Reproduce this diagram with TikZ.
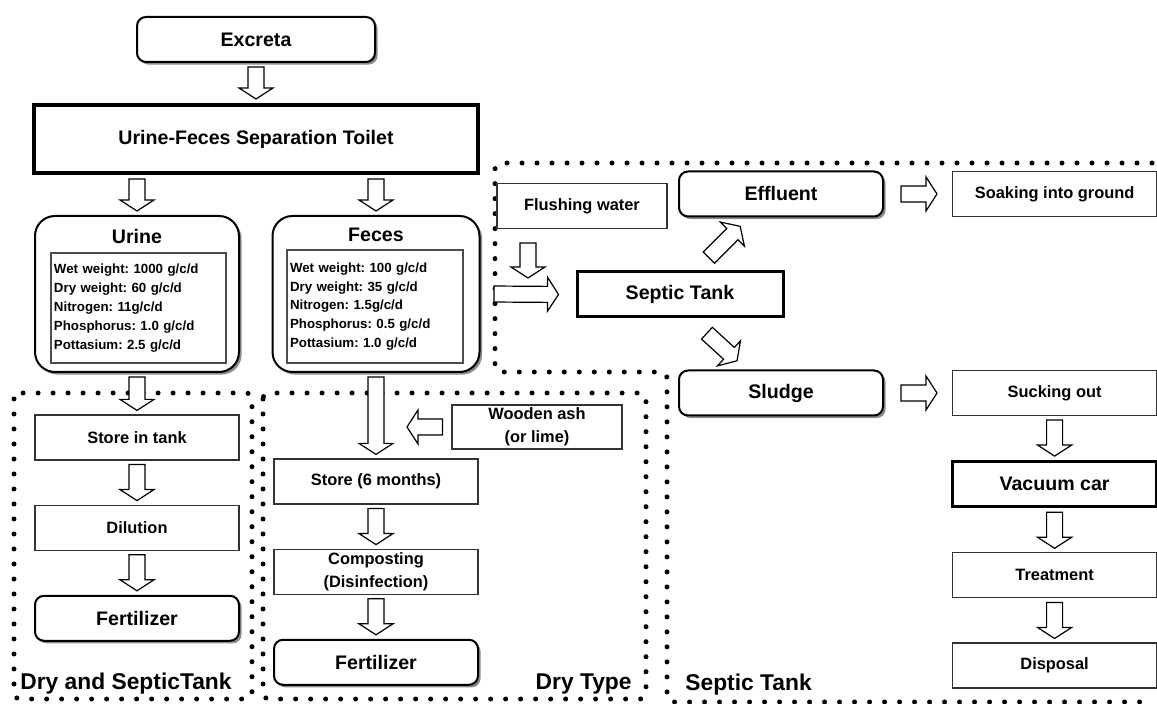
\documentclass[tikz,border=0pt]{standalone}
\usepackage{fontspec}
\setmainfont{Liberation Sans}
\usepackage{xcolor}
\colorlet{colorShadow}{black!45}
\colorlet{colorFrame}{black!80}
\colorlet{colorData}{black!70}
\usetikzlibrary{positioning, calc, shadows}
\frenchspacing
\tikzset{
  roundbox/.style={draw, line width=1pt, rounded corners=4.5pt, fill=white,
    drop shadow={shadow xshift=1.3pt, shadow yshift=-1.3pt, fill=colorShadow, opacity=1},
    minimum width=102pt, minimum height=22.5pt, inner sep=0pt,
    font=\fontsize{9.8}{11}\selectfont\bfseries},
  groupbox/.style={roundbox, rounded corners=10pt, minimum width=102pt, minimum height=78pt},
  plainbox/.style={draw=colorFrame, line width=0.6pt, fill=white, minimum width=102pt,
    minimum height=22.5pt, inner sep=0pt, align=center,
    font=\fontsize{8.2}{11.4}\selectfont\bfseries},
  thickbox/.style={draw, line width=1.6pt, fill=white, minimum width=102pt,
    minimum height=22.5pt, inner sep=0pt, font=\fontsize{9.8}{11}\selectfont\bfseries},
  databox/.style={draw=colorData, line width=0.6pt, text width=84.5pt, inner sep=1.5pt,
    minimum height=55pt, align=left, font=\fontsize{6.65}{9.4}\selectfont\bfseries},
  grouptitle/.style={inner sep=0pt, font=\fontsize{9.8}{11}\selectfont\bfseries},
  region/.style={line width=2.5pt, line cap=round, dash pattern=on 0pt off 7.5pt, rounded corners=3pt},
  regionlabel/.style={inner sep=0pt, font=\fontsize{11.4}{13}\selectfont\bfseries},
  flowarrow/.style={draw, line width=0.6pt, fill=white, line join=miter},
}
% hollow block arrow between two points
\newcommand{\flowto}[2]{%
  \path #1 coordinate (fa-s) #2 coordinate (fa-e);
  \coordinate (fa-a) at ($(fa-s)!2pt!(fa-e)$);
  \coordinate (fa-b) at ($(fa-e)!2pt!(fa-s)$);
  \coordinate (fa-h) at ($(fa-b)!5.5pt!(fa-a)$);
  \draw[flowarrow] ($(fa-a)!4pt!90:(fa-b)$) -- ($(fa-h)!4pt!90:(fa-b)$)
    -- ($(fa-h)!8.5pt!90:(fa-b)$) -- (fa-b) -- ($(fa-h)!8.5pt!-90:(fa-b)$)
    -- ($(fa-h)!4pt!-90:(fa-b)$) -- ($(fa-a)!4pt!-90:(fa-b)$) -- cycle;
}

\begin{document}
\begin{tikzpicture}[x=0.5pt, y=-0.5pt, node distance=22pt]
\useasboundingbox (0,0) rectangle (1157,704);

% dotted regions
\draw[region] (14,393) rectangle (252,699);
\draw[region] (263,393) rectangle (646,699);
\draw[region] (1152,163) -- (495,163) -- (495,372) -- (667,372) -- (667,702) -- (1152,702);
\node[regionlabel, anchor=west] (lblboth) at (20,684) {Dry and SepticTank};
\node[regionlabel, anchor=east] (lbldry) at (632,684) {Dry Type};
\node[regionlabel, anchor=west] (lblseptic) at (685,685) {Septic Tank};

% separation
\node[roundbox, minimum width=119pt] (excreta) at (256,39.5) {Excreta};
\node[thickbox, line width=2pt, minimum width=222pt, minimum height=34pt] (toilet) at (256,139) {Urine-Feces Separation Toilet};
\node[groupbox] (urine) at (137,294) {};
\node[grouptitle] (urinetitle) at ($(urine.north)+(0,22)$) {Urine};
\node[databox] (urinedata) at (138.5,308) {Wet weight: 1000 g/c/d\\Dry weight: 60 g/c/d\\Nitrogen: 11g/c/d\\Phosphorus: 1.0 g/c/d\\Pottasium: 2.5 g/c/d};
\node[groupbox, minimum width=103.5pt] (feces) at (376,294) {};
\node[grouptitle] (fecestitle) at ($(feces.north)+(0,20)$) {Feces};
\node[databox, text width=85pt, minimum height=56.5pt] (fecesdata) at (375,306.5) {Wet weight: 100 g/c/d\\Dry weight: 35 g/c/d\\Nitrogen: 1.5g/c/d\\Phosphorus: 0.5 g/c/d\\Pottasium: 1.0 g/c/d};

% dry and septic tank
\node[plainbox] (tank) at (137,437.5) {Store in tank};
\node[plainbox, below=of tank] (dilution) {Dilution};
\node[roundbox, below=of dilution] (fertA) {Fertilizer};

% dry type
\node[plainbox] (store6) at (376,481.5) {Store (6 months)};
\node[plainbox, below=of store6] (compost) {Composting\\(Disinfection)};
\node[roundbox, below=of compost] (fertB) {Fertilizer};
\node[plainbox, minimum width=85pt, minimum height=22pt] (ash) at (537,427) {Wooden ash\\(or lime)};

% septic tank
\node[plainbox, minimum width=85pt] (flush) at (582,206) {Flushing water};
\node[thickbox, minimum width=103pt, line width=1.5pt] (septic) at (680,294.5) {Septic Tank};
\node[roundbox] (effluent) at (781,194) {Effluent};
\node[plainbox, right=34pt of effluent] (soak) {Soaking into ground};
\node[roundbox] (sludge) at (781,393) {Sludge};
\node[plainbox, right=34pt of sludge] (suck) {Sucking out};
\node[thickbox, below=of suck] (vacuum) {Vacuum car};
\node[plainbox, below=of vacuum] (treat) {Treatment};
\node[plainbox, below=of treat] (disposal) {Disposal};

\coordinate (flushend) at (528,282);
\coordinate (inlet) at (490,294);
\coordinate (ashend) at (403,427);

% flows
\flowto{(excreta.south)}{(toilet.north)}
\flowto{(toilet.south -| urine.north)}{(urine.north)}
\flowto{(toilet.south -| feces.north)}{(feces.north)}
\flowto{(urine.south)}{(tank.north)}
\flowto{(tank.south)}{(dilution.north)}
\flowto{(dilution.south)}{(fertA.north)}
\flowto{(feces.south)}{(store6.north)}
\flowto{(store6.south)}{(compost.north)}
\flowto{(compost.south)}{(fertB.north)}
\flowto{($(ash.west)+(-5,0)$)}{(ashend)}
\flowto{($(flush.south)+(-54,10)$)}{(flushend)}
\flowto{(inlet)}{($(septic.west)+(-13,0)$)}
\flowto{($(septic.north)+(26,-10)$)}{($(effluent.south)+(-38,6)$)}
\flowto{($(septic.south)+(24,12)$)}{($(sludge.north)+(-41,-6)$)}
\flowto{($(effluent.east)+(13,0)$)}{($(soak.west)+(-11,0)$)}
\flowto{($(sludge.east)+(13,0)$)}{($(suck.west)+(-11,0)$)}
\flowto{(suck.south)}{(vacuum.north)}
\flowto{(vacuum.south)}{(treat.north)}
\flowto{(treat.south)}{(disposal.north)}
\end{tikzpicture}
\end{document}
